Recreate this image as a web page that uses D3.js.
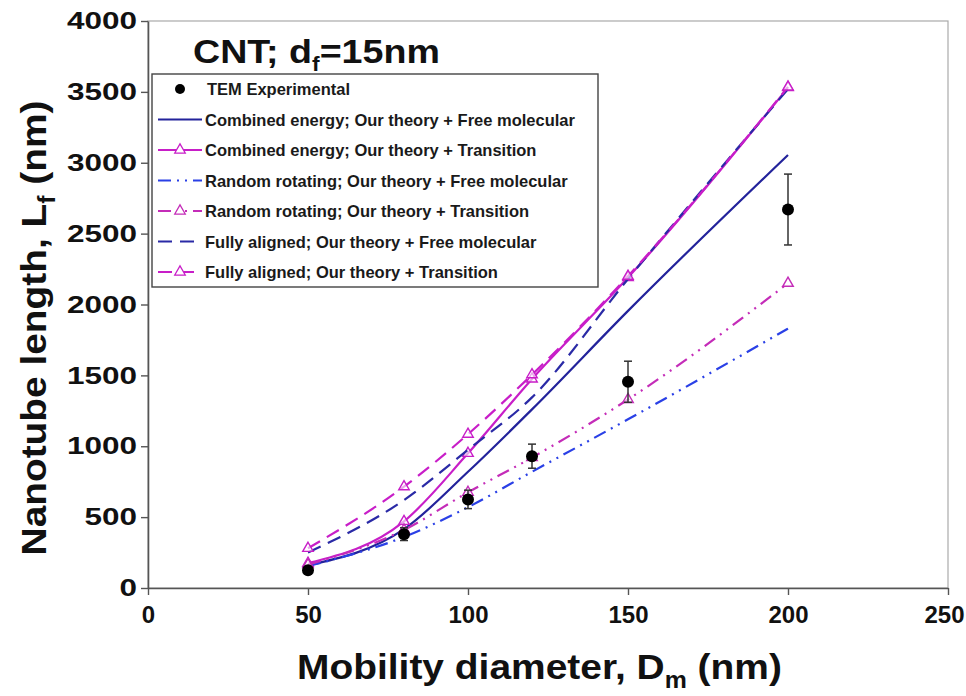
<!DOCTYPE html>
<html><head><meta charset="utf-8">
<script src="https://cdn.jsdelivr.net/npm/d3@7"></script>
<style>body{margin:0;background:#fff;} svg{display:block;}</style>
</head><body>
<svg id="chart" width="966" height="696"></svg>
<script>
const xs = [50, 80, 100, 120, 150, 200];
const expValues = [125, 380, 625, 930, 1455, 2670];
const expErrors = [20, 45, 65, 85, 145, 250];
const combinedFree = [160, 415, 820, 1260, 1955, 3055];
const combinedTrans = [175, 470, 950, 1475, 2190, 3530];
const randomFree = [155, 360, 570, 820, 1190, 1830];
const randomTrans = [165, 410, 675, 920, 1330, 2150];
const alignedFree = [250, 620, 975, 1345, 2180, 3520];
const alignedTrans = [280, 715, 1085, 1505, 2200, 3535];
const xTicks = [0, 50, 100, 150, 200, 250];
const yTicks = [0, 500, 1000, 1500, 2000, 2500, 3000, 3500, 4000];

const seriesList = [
  {name: "Combined energy; Our theory + Free molecular", values: combinedFree, color: "#23239b", dash: null, tri: false},
  {name: "Combined energy; Our theory + Transition", values: combinedTrans, color: "#c81ec8", dash: null, tri: true},
  {name: "Random rotating; Our theory + Free molecular", values: randomFree, color: "#2a40e6", dash: "13,6,2,6,2,6", tri: false},
  {name: "Random rotating; Our theory + Transition", values: randomTrans, color: "#c42cb8", dash: "13,6,2,6,2,6", tri: true},
  {name: "Fully aligned; Our theory + Free molecular", values: alignedFree, color: "#2a2aa6", dash: "14,8", tri: false},
  {name: "Fully aligned; Our theory + Transition", values: alignedTrans, color: "#c81ec8", dash: "14,8", tri: true}
];

const svg = d3.select("#chart");
const L = 148, R = 948, T = 21, B = 588;
const x = d3.scaleLinear().domain([0, 250]).range([L, R]);
const y = d3.scaleLinear().domain([0, 4000]).range([B, T]);
const FONT = "Liberation Sans, Arial, sans-serif";

function stretchTo(sel, target, ax) {
  const w = sel.node().getBBox().width;
  const k = target / w;
  const prev = sel.attr("transform") || "";
  sel.attr("transform", `translate(${ax},0) scale(${k},1) translate(${-ax},0) ` + prev);
}

svg.append("rect").attr("x", L).attr("y", T).attr("width", R - L).attr("height", B - T)
  .attr("fill", "none").attr("stroke", "#aaa").attr("stroke-width", 1.2);

const xAxis = svg.append("g").attr("transform", `translate(0,${B})`)
  .call(d3.axisBottom(x).tickValues(xTicks).tickFormat(d3.format("d")).tickSize(7).tickPadding(11).tickSizeOuter(0));
const yAxis = svg.append("g").attr("transform", `translate(${L},0)`)
  .call(d3.axisLeft(y).tickValues(yTicks).tickFormat(d3.format("d")).tickSize(7).tickPadding(4).tickSizeOuter(0));
[xAxis, yAxis].forEach(g => {
  g.select(".domain").attr("stroke", "#555").attr("stroke-width", 1.6);
  g.selectAll(".tick line").attr("stroke", "#555").attr("stroke-width", 1.4);
  g.selectAll(".tick text").attr("fill", "#111")
    .style("font-family", FONT).style("font-weight", "bold");
});
xAxis.selectAll(".tick text").style("font-size", "24px");
xAxis.selectAll(".tick text").filter(d => d === 250).attr("text-anchor", "end").attr("x", 16);
yAxis.selectAll(".tick text").style("font-size", "24px")
  .attr("textLength", d => String(d).length * 17.5).attr("lengthAdjust", "spacingAndGlyphs");

const line = d3.line().x((d, i) => x(xs[i])).y(d => y(d)).curve(d3.curveMonotoneX);
const triPath = d3.symbol().type(d3.symbolTriangle).size(48);
seriesList.forEach(s => {
  svg.append("path").datum(s.values).attr("d", line)
    .attr("fill", "none").attr("stroke", s.color).attr("stroke-width", 2.2)
    .attr("stroke-dasharray", s.dash);
  if (s.tri) {
    svg.selectAll(null).data(s.values).enter().append("path")
      .attr("d", triPath)
      .attr("transform", (d, i) => `translate(${x(xs[i])},${y(d)})`)
      .attr("fill", "#fff").attr("fill-opacity", 0.6).attr("stroke", s.color).attr("stroke-width", 1.4);
  }
});

const eg = svg.append("g");
xs.forEach((xv, i) => {
  const v = expValues[i], e = expErrors[i];
  eg.append("line").attr("x1", x(xv)).attr("x2", x(xv)).attr("y1", y(v - e)).attr("y2", y(v + e))
    .attr("stroke", "#333").attr("stroke-width", 1.5);
  [v - e, v + e].forEach(ev => eg.append("line").attr("x1", x(xv) - 4).attr("x2", x(xv) + 4)
    .attr("y1", y(ev)).attr("y2", y(ev)).attr("stroke", "#333").attr("stroke-width", 1.5));
  eg.append("circle").attr("cx", x(xv)).attr("cy", y(v)).attr("r", 6).attr("fill", "#000");
});

const lg = svg.append("g");
lg.append("rect").attr("x", 152).attr("y", 74).attr("width", 446).attr("height", 213)
  .attr("fill", "#fff").attr("stroke", "#444").attr("stroke-width", 1.4);
const rowY = r => 89 + r * 30.5;
const legFont = t => t.style("font-family", FONT).style("font-weight", "bold")
  .style("font-size", "16.5px").attr("fill", "#1a1a1a").attr("dominant-baseline", "central");
lg.append("circle").attr("cx", 180).attr("cy", rowY(0)).attr("r", 5).attr("fill", "#000");
lg.append("text").attr("x", 207).attr("y", rowY(0)).text("TEM Experimental").call(legFont);
seriesList.forEach((s, i) => {
  const yy = rowY(i + 1);
  lg.append("line").attr("x1", 158).attr("x2", 202).attr("y1", yy).attr("y2", yy)
    .attr("stroke", s.color).attr("stroke-width", 2.2).attr("stroke-dasharray", s.dash);
  if (s.tri) lg.append("path").attr("d", triPath).attr("transform", `translate(180,${yy})`)
    .attr("fill", "#fff").attr("stroke", s.color).attr("stroke-width", 1.3);
  lg.append("text").attr("x", 205).attr("y", yy).text(s.name).call(legFont);
});

const t1 = svg.append("text").attr("x", 193).attr("y", 63).attr("fill", "#111")
  .style("font-family", FONT).style("font-weight", "bold").style("font-size", "33px");
t1.append("tspan").text("CNT; d");
t1.append("tspan").text("f").attr("dy", 8).style("font-size", "20px");
t1.append("tspan").text("=15nm").attr("dy", -8);
stretchTo(t1, 247, 193);

const xt = svg.append("text").attr("x", 297).attr("y", 679).attr("fill", "#111")
  .style("font-family", FONT).style("font-weight", "bold").style("font-size", "36px");
xt.append("tspan").text("Mobility diameter, D");
xt.append("tspan").text("m").attr("dy", 9).style("font-size", "23px");
xt.append("tspan").text(" (nm)").attr("dy", -9);
stretchTo(xt, 485, 297);

const yt = svg.append("text").attr("x", 0).attr("y", 0).attr("text-anchor", "middle").attr("fill", "#111")
  .style("font-family", FONT).style("font-weight", "bold").style("font-size", "36px");
yt.append("tspan").text("Nanotube length, L");
yt.append("tspan").text("f").attr("dy", 9).style("font-size", "23px");
yt.append("tspan").text(" (nm)").attr("dy", -9);
stretchTo(yt, 455, 0);
yt.attr("transform", "translate(46,328) rotate(-90) " + yt.attr("transform"));
</script>
</body></html>
